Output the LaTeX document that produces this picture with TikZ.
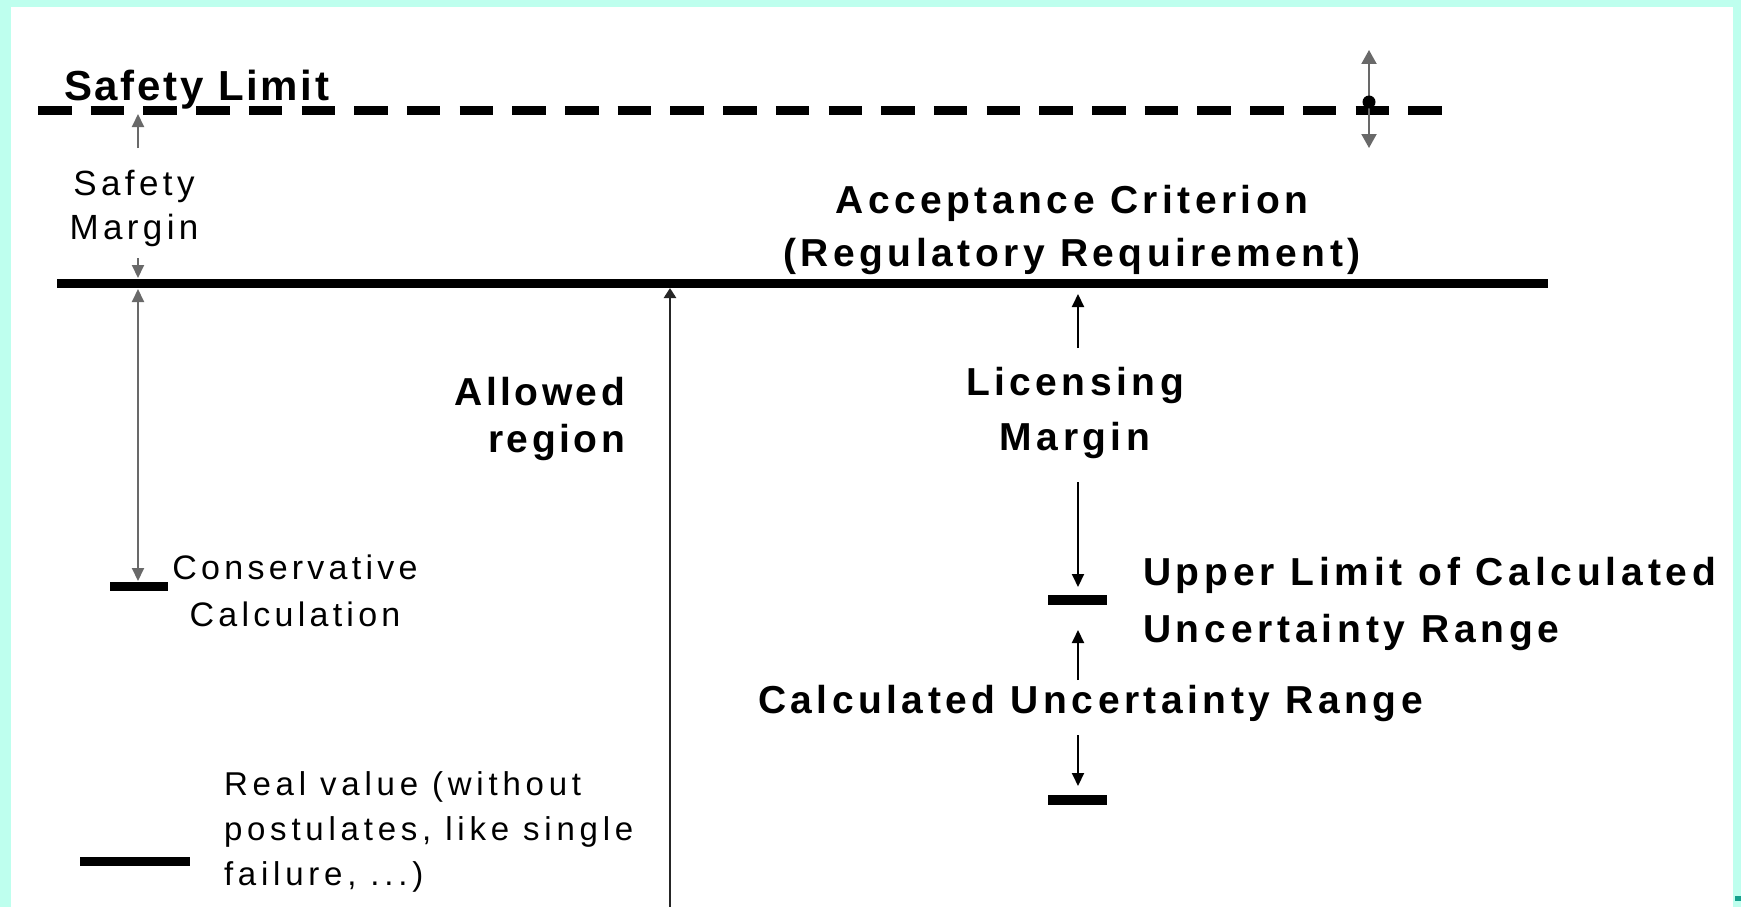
\documentclass[tikz,border=0pt]{standalone}
\usepackage{fontspec}
\setmainfont{Liberation Sans}
\usetikzlibrary{arrows.meta}
\definecolor{mint}{RGB}{190,255,238}
\definecolor{tealmark}{RGB}{20,160,140}
\definecolor{shaft}{RGB}{105,105,105}

\begin{document}
\begin{tikzpicture}[x=1pt,y=-1pt,
  every node/.style={inner sep=0pt,outer sep=0pt},
  boldtxt/.style={font=\fontsize{39}{53}\selectfont\bfseries\addfontfeature{LetterSpace=11.5}},
  titletxt/.style={font=\fontsize{42}{50}\selectfont\bfseries\addfontfeature{LetterSpace=6.5}},
  regtxt/.style={font=\fontsize{35}{44}\selectfont\addfontfeature{LetterSpace=12.5}},
  smalltxt/.style={font=\fontsize{33}{45}\selectfont\addfontfeature{LetterSpace=14.5}},
  limitline/.style={line width=9pt},
  levelbar/.style={line width=9pt},
  darrow/.style={line width=2pt,-{Triangle[width=12pt,length=13pt]}},
  garrow/.style={darrow,shaft},
]
% page and frame
\fill[mint] (0,0) rectangle (1741,907);
\fill[white] (11,7) rectangle (1733,907);
\fill[tealmark] (1735,896) rectangle (1741,901);
\useasboundingbox (0,0) rectangle (1741,907);

% safety limit (dashed) and acceptance criterion (solid)
\coordinate (slL) at (38,110.5);
\coordinate (slR) at (1442,110.5);
\draw[limitline,dash pattern=on 33.5pt off 19.2pt] (slL) -- (slR);
\coordinate (acL) at (57,283.5);
\coordinate (acR) at (1548,283.5);
\draw[limitline] (acL) -- (acR);

% multi-line nodes are placed at the baseline of their last line
\node[titletxt,anchor=base west] (sltext) at (64,100) {Safety Limit};
\node[boldtxt,align=center,anchor=base] (actext) at (1072,266)
  {Acceptance Criterion\\(Regulatory Requirement)};

% uncertainty of the safety limit
\coordinate (ulTop) at (1369,50);
\coordinate (ulBot) at (1369,148);
\draw[garrow,{Triangle[width=15pt,length=14pt]}-{Triangle[width=15pt,length=14pt]}] (ulTop) -- (ulBot);
\fill (1369,102) circle (6.5pt);

% safety margin
\node[regtxt,align=center,anchor=base] (smtext) at (134,239) {Safety\\Margin};
\coordinate (smUpA) at (138,148);
\coordinate (smUpB) at (138,114);
\coordinate (smDnA) at (138,258);
\coordinate (smDnB) at (138,278);
\draw[garrow] (smUpA) -- (smUpB);
\draw[garrow] (smDnA) -- (smDnB);

% conservative calculation
\coordinate (ccL) at (110,586.5);
\coordinate (ccR) at (168,586.5);
\draw[levelbar] (ccL) -- (ccR);
\coordinate (ccTop) at (138,289);
\coordinate (ccBot) at (138,581);
\draw[garrow,{Triangle[width=12pt,length=13pt]}-{Triangle[width=12pt,length=13pt]}] (ccTop) -- (ccBot);
\node[regtxt,font=\fontsize{34}{47}\selectfont\addfontfeature{LetterSpace=12.5},
  align=center,anchor=base] (cctext) at (295,626) {Conservative\\Calculation};

% real value
\coordinate (rvL) at (80,861);
\coordinate (rvR) at (190,861);
\draw[levelbar] (rvL) -- (rvR);
\node[smalltxt,align=left,anchor=base west] (rvtext) at (224,885)
  {Real value (without\\postulates, like single\\failure, ...)};

% allowed region
\coordinate (arTop) at (670,288);
\coordinate (arBot) at (670,907);
\draw[line width=2.5pt,black!85,-{Triangle[width=12pt,length=10pt]}] (arBot) -- (arTop);
\node[boldtxt,font=\fontsize{39}{47}\selectfont\bfseries\addfontfeature{LetterSpace=9},
  align=right,anchor=base east] (artext) at (625,452) {Allowed\\region};

% licensing margin
\node[boldtxt,font=\fontsize{39}{55}\selectfont\bfseries\addfontfeature{LetterSpace=11.5},
  align=center,anchor=base] (lmtext) at (1075,450) {Licensing\\Margin};
\coordinate (lmUpA) at (1078,348);
\coordinate (lmUpB) at (1078,294);
\coordinate (lmDnA) at (1078,482);
\coordinate (lmDnB) at (1078,587);
\draw[darrow] (lmUpA) -- (lmUpB);
\draw[darrow] (lmDnA) -- (lmDnB);

% calculated uncertainty range
\coordinate (upL) at (1048,600);
\coordinate (upR) at (1107,600);
\draw[levelbar,line width=10pt] (upL) -- (upR);
\coordinate (loL) at (1048,800);
\coordinate (loR) at (1107,800);
\draw[levelbar,line width=10pt] (loL) -- (loR);
\node[boldtxt,font=\fontsize{39}{57}\selectfont\bfseries\addfontfeature{LetterSpace=12.3},
  align=left,anchor=base west] (uptext) at (1143,642)
  {Upper Limit of Calculated\\Uncertainty Range};
\coordinate (urUpA) at (1078,680);
\coordinate (urUpB) at (1078,630);
\coordinate (urDnA) at (1078,735);
\coordinate (urDnB) at (1078,786);
\draw[darrow] (urUpA) -- (urUpB);
\draw[darrow] (urDnA) -- (urDnB);
\node[boldtxt,anchor=base west] (urtext) at (758,713) {Calculated Uncertainty Range};
\end{tikzpicture}
\end{document}
